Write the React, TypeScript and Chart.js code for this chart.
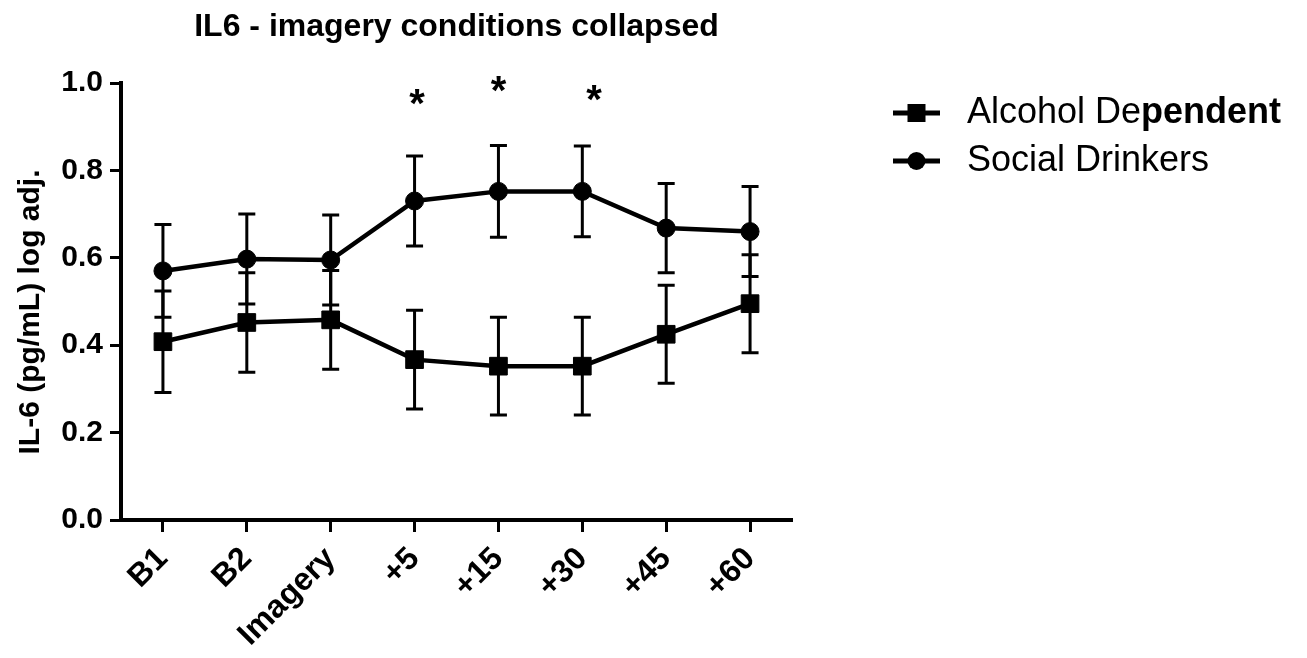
import React, { useEffect, useRef } from "react";
import { Chart, registerables } from "chart.js";

Chart.register(...registerables);

// ---- data ----
const categories = ["B1", "B2", "Imagery", "+5", "+15", "+30", "+45", "+60"];
const seriesNames = ["Alcohol Dependent", "Social Drinkers"];
const legendBoldFrom = [10, -1]; // "Alcohol De" + bold "pendent"
const alcoholMean = [0.408, 0.452, 0.458, 0.367, 0.352, 0.352, 0.425, 0.495];
const alcoholSem = [0.116, 0.114, 0.113, 0.113, 0.112, 0.112, 0.112, 0.112];
const socialMean = [0.570, 0.597, 0.595, 0.730, 0.752, 0.752, 0.668, 0.660];
const socialSem = [0.106, 0.103, 0.103, 0.103, 0.105, 0.104, 0.102, 0.103];
const yMin = 0;
const yMax = 1.0;
const yStep = 0.2;
const sigX = [3.03, 4.0, 5.14];
const sigY = [0.97, 1.0, 0.98];
const sigLabel = "*";
const chartTitle = "IL6 - imagery conditions collapsed";
const yTitle = "IL-6 (pg/mL) log adj.";

const FONT = "'Liberation Sans', Arial, Helvetica, sans-serif";

export default function App() {
  const ref = useRef<HTMLCanvasElement | null>(null);

  useEffect(() => {
    const canvas = ref.current;
    if (!canvas) return;
    const sems = [alcoholSem, socialSem];
    const styles = ["rect", "circle"];

    const annot = {
      id: "annot",
      beforeDatasetsDraw(chart: any) {
        const ctx = chart.ctx;
        const xs = chart.scales.x;
        const ys = chart.scales.y;
        ctx.save();
        ctx.strokeStyle = "#000";
        ctx.lineWidth = 3;
        chart.data.datasets.forEach((ds: any, di: number) => {
          ds.data.forEach((v: number, i: number) => {
            const x = xs.getPixelForValue(i);
            const yt = ys.getPixelForValue(v + sems[di][i]);
            const yb = ys.getPixelForValue(v - sems[di][i]);
            ctx.beginPath();
            ctx.moveTo(x, yt);
            ctx.lineTo(x, yb);
            ctx.moveTo(x - 8.5, yt);
            ctx.lineTo(x + 8.5, yt);
            ctx.moveTo(x - 8.5, yb);
            ctx.lineTo(x + 8.5, yb);
            ctx.stroke();
          });
        });
        ctx.restore();
      },
      afterDraw(chart: any) {
        const ctx = chart.ctx;
        const xs = chart.scales.x;
        const ys = chart.scales.y;
        const area = chart.chartArea;
        ctx.save();
        ctx.fillStyle = "#000";
        // title
        ctx.font = `bold 32px ${FONT}`;
        ctx.textAlign = "center";
        ctx.textBaseline = "alphabetic";
        ctx.fillText(chartTitle, (area.left + area.right) / 2, 36);
        // y title
        ctx.save();
        ctx.translate(39, 312);
        ctx.rotate(-Math.PI / 2);
        ctx.font = `bold 30px ${FONT}`;
        ctx.textAlign = "center";
        ctx.textBaseline = "alphabetic";
        ctx.fillText(yTitle, 0, 0);
        ctx.restore();
        // significance
        ctx.font = `bold 40px ${FONT}`;
        ctx.textAlign = "center";
        ctx.textBaseline = "middle";
        sigX.forEach((sx, i) => {
          ctx.fillText(sigLabel, xs.getPixelForValue(sx), ys.getPixelForValue(sigY[i]) + 10);
        });
        // legend
        const lx0 = 893;
        const lx1 = 940;
        const rowY = [113, 161];
        seriesNames.forEach((name, i) => {
          const y = rowY[i];
          ctx.strokeStyle = "#000";
          ctx.lineWidth = 5;
          ctx.beginPath();
          ctx.moveTo(lx0, y);
          ctx.lineTo(lx1, y);
          ctx.stroke();
          const cx = (lx0 + lx1) / 2;
          if (styles[i] === "rect") {
            ctx.fillRect(cx - 9, y - 9, 18, 18);
          } else {
            ctx.beginPath();
            ctx.arc(cx, y, 9, 0, Math.PI * 2);
            ctx.fill();
          }
          ctx.textAlign = "left";
          ctx.textBaseline = "middle";
          const b = legendBoldFrom[i];
          const p1 = b >= 0 ? name.slice(0, b) : name;
          const p2 = b >= 0 ? name.slice(b) : "";
          ctx.font = `36px ${FONT}`;
          ctx.fillText(p1, 967, y);
          const w1 = ctx.measureText(p1).width;
          if (p2) {
            ctx.font = `bold 36px ${FONT}`;
            ctx.fillText(p2, 967 + w1, y);
          }
        });
        ctx.restore();
      },
    };

    const chart = new Chart(canvas, {
      type: "line",
      data: {
        labels: categories,
        datasets: [
          {
            label: seriesNames[0],
            data: alcoholMean,
            borderColor: "#000",
            backgroundColor: "#000",
            borderWidth: 4.5,
            pointStyle: "rect",
            pointRadius: 12.5,
            pointBorderWidth: 1,
            tension: 0,
          },
          {
            label: seriesNames[1],
            data: socialMean,
            borderColor: "#000",
            backgroundColor: "#000",
            borderWidth: 4.5,
            pointStyle: "circle",
            pointRadius: 9,
            pointBorderWidth: 1,
            tension: 0,
          },
        ],
      },
      options: {
        responsive: false,
        animation: false,
        devicePixelRatio: 1,
        layout: { padding: { left: 0, right: 515, top: 83, bottom: 0 } },
        plugins: {
          legend: { display: false },
          title: { display: false },
          tooltip: { enabled: false },
        },
        scales: {
          x: {
            type: "category",
            offset: true,
            grid: {
              display: true,
              drawOnChartArea: false,
              drawTicks: true,
              tickLength: 12,
              tickWidth: 3,
              color: "#000",
              offset: false,
            },
            border: { display: true, color: "#000", width: 4 },
            ticks: {
              color: "#000",
              font: { family: FONT, size: 32, weight: "bold" },
              minRotation: 45,
              maxRotation: 45,
              padding: 8,
              autoSkip: false,
            },
            afterFit(scale: any) {
              scale.height = 138;
            },
          },
          y: {
            min: yMin,
            max: yMax,
            grid: {
              display: true,
              drawOnChartArea: false,
              drawTicks: true,
              tickLength: 11,
              tickWidth: 3,
              color: "#000",
            },
            border: { display: true, color: "#000", width: 4 },
            ticks: {
              stepSize: yStep,
              color: "#000",
              font: { family: FONT, size: 30, weight: "bold" },
              padding: 7,
              callback: (v: any) => Number(v).toFixed(1),
            },
            afterFit(scale: any) {
              scale.width = 121;
            },
          },
        },
      },
      plugins: [annot],
    } as any);

    return () => chart.destroy();
  }, []);

  return (
    <div style={{ position: "fixed", left: 0, top: 0, width: 1307, height: 658, background: "#fff" }}>
      <canvas ref={ref} width={1307} height={658} style={{ width: 1307, height: 658, display: "block" }} />
    </div>
  );
}
